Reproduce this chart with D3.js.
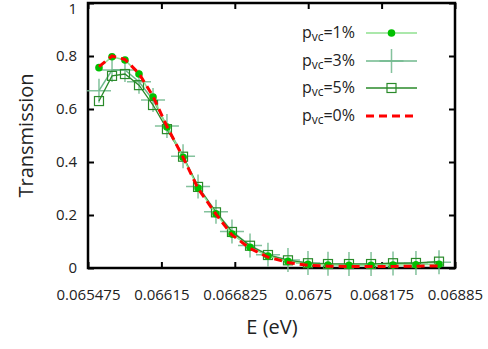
<!DOCTYPE html>
<html>
<head>
<meta charset="utf-8">
<script src="https://cdn.jsdelivr.net/npm/d3@7"></script>
<style>
  body { margin: 0; background: #fff; }
  text { font-family: "Open Sans", "Noto Sans", sans-serif; fill: #222; }
</style>
</head>
<body>
<svg id="chart" width="488" height="349"></svg>
<script>
// Energy grid (eV)
const energy = [0.065576, 0.065696, 0.065815, 0.065944, 0.066073, 0.066201, 0.066349, 0.066487,
  0.066652, 0.066799, 0.066965, 0.067130, 0.067314, 0.067498, 0.067682, 0.067875,
  0.068078, 0.068280, 0.068491, 0.068703];

const p1 = [0.756, 0.797, 0.785, 0.732, 0.645, 0.532, 0.418, 0.302, 0.205, 0.128, 0.078,
  0.045, 0.025, 0.014, 0.011, 0.010, 0.010, 0.011, 0.012, 0.014];
const p3 = [0.669, 0.747, 0.747, 0.703, 0.634, 0.536, 0.422, 0.308, 0.212, 0.138, 0.085,
  0.050, 0.030, 0.019, 0.016, 0.015, 0.015, 0.017, 0.019, 0.022];
const p5 = [0.630, 0.725, 0.732, 0.690, 0.615, 0.524, 0.420, 0.306, 0.210, 0.136, 0.084,
  0.049, 0.029, 0.018, 0.015, 0.015, 0.015, 0.018, 0.019, 0.024];
const p0 = [0.760, 0.800, 0.787, 0.734, 0.648, 0.534, 0.418, 0.300, 0.203, 0.125, 0.074,
  0.041, 0.021, 0.010, 0.007, 0.006, 0.006, 0.006, 0.007, 0.008];

const xTicks = [0.065475, 0.06615, 0.066825, 0.0675, 0.068175, 0.06885];
const yTicks = [0, 0.2, 0.4, 0.6, 0.8, 1];

const svg = d3.select("#chart");
const margin = { top: 3, right: 33, bottom: 81, left: 88 };
const width = 488, height = 349;

// Scales
const x = d3.scaleLinear()
  .domain([0.065475, 0.06885])
  .range([margin.left, width - margin.right]);
const y = d3.scaleLinear()
  .domain([0, 1])
  .range([height - margin.bottom, margin.top]);

// Axes (gnuplot style: inward ticks, mirrored)
const fmtX = d => String(d);
const fmtY = d => String(+d.toFixed(1));

svg.append("g")
  .attr("transform", `translate(0,${y(0)})`)
  .call(d3.axisBottom(x).tickValues(xTicks).tickFormat(fmtX).tickSizeInner(-6).tickSizeOuter(0).tickPadding(21))
  .call(g => g.selectAll("text").attr("font-size", 15).attr("fill", "#222"));

svg.append("g")
  .attr("transform", `translate(0,${y(1)})`)
  .call(d3.axisTop(x).tickValues(xTicks).tickFormat("").tickSizeInner(-6).tickSizeOuter(0));

svg.append("g")
  .attr("transform", `translate(${x.range()[0]},0)`)
  .call(d3.axisLeft(y).tickValues(yTicks).tickFormat(fmtY).tickSizeInner(-6).tickSizeOuter(0).tickPadding(11))
  .call(g => g.selectAll("text").attr("font-size", 15).attr("fill", "#222"))
  .call(g => g.selectAll(".tick text").filter(d => d === 1).attr("dy", "0.68em"));

svg.append("g")
  .attr("transform", `translate(${x.range()[1]},0)`)
  .call(d3.axisRight(y).tickValues(yTicks).tickFormat("").tickSizeInner(-6).tickSizeOuter(0));

svg.selectAll(".tick line").attr("stroke", "#000").attr("stroke-width", 2);
svg.selectAll("path.domain").remove();

// Frame
svg.append("rect")
  .attr("x", x.range()[0]).attr("y", y(1))
  .attr("width", x.range()[1] - x.range()[0])
  .attr("height", y(0) - y(1))
  .attr("fill", "none").attr("stroke", "#000").attr("stroke-width", 2.5);

// Axis titles
svg.append("text")
  .attr("x", 272)
  .attr("y", 334)
  .attr("text-anchor", "middle")
  .attr("font-size", 20)
  .text("E (eV)");

svg.append("text")
  .attr("transform", "rotate(-90)")
  .attr("x", -(y(0) + y(1)) / 2)
  .attr("y", 33)
  .attr("text-anchor", "middle")
  .attr("font-size", 20)
  .text("Transmission");

// Series
const series = [
  { name: "1%", values: p1, line: "#8fe08f", width: 1.5, marker: "dot", mcolor: "#00c000" },
  { name: "3%", values: p3, line: "#6fb88c", width: 1.5, marker: "cross", mcolor: "#6fb88c" },
  { name: "5%", values: p5, line: "#2a8a2a", width: 1.3, marker: "square", mcolor: "#2a8a2a" },
  { name: "0%", values: p0, line: "#ff0000", width: 3, marker: null, dash: "8,5" }
];

const line = d3.line().x(d => x(d[0])).y(d => y(d[1]));
const plot = svg.append("g");

function drawMarker(g, type, cx, cy, color) {
  if (type === "dot") {
    g.append("circle").attr("cx", cx).attr("cy", cy).attr("r", 3.8).attr("fill", color);
  } else if (type === "cross") {
    g.append("path")
      .attr("d", `M${cx - 12},${cy}H${cx + 12}M${cx},${cy - 12}V${cy + 12}`)
      .attr("stroke", color).attr("stroke-width", 1.5).attr("opacity", 0.85);
  } else if (type === "square") {
    g.append("rect").attr("x", cx - 4.5).attr("y", cy - 4.5).attr("width", 9).attr("height", 9)
      .attr("fill", "none").attr("stroke", color).attr("stroke-width", 1.2);
  }
}

// draw order: 3%, 5%, 1%, 0% on top
[series[1], series[2], series[0], series[3]].forEach(s => {
  const pts = energy.map((e, i) => [e, s.values[i]]);
  plot.append("path")
    .datum(pts)
    .attr("d", line)
    .attr("fill", "none")
    .attr("stroke", s.line)
    .attr("stroke-width", s.width)
    .attr("stroke-dasharray", s.dash || null);
  if (s.marker) {
    pts.forEach(p => drawMarker(plot, s.marker, x(p[0]), y(p[1]), s.mcolor));
  }
});

// Legend
const legend = svg.append("g");
const legendY = [33, 61, 88, 116];
series.forEach((s, i) => {
  const ly = legendY[i];
  const t = legend.append("text")
    .attr("x", 355).attr("y", ly + 5)
    .attr("text-anchor", "end")
    .attr("font-size", 16);
  t.append("tspan").text("p");
  t.append("tspan").attr("font-size", 12).attr("dy", 3).text("vc");
  t.append("tspan").attr("dy", -3).text("=" + s.name);
  legend.append("line")
    .attr("x1", 366).attr("x2", 417).attr("y1", ly).attr("y2", ly)
    .attr("stroke", s.line).attr("stroke-width", s.width)
    .attr("stroke-dasharray", s.dash || null);
  if (s.marker) drawMarker(legend, s.marker, 391.5, ly, s.mcolor);
});
</script>
</body>
</html>
